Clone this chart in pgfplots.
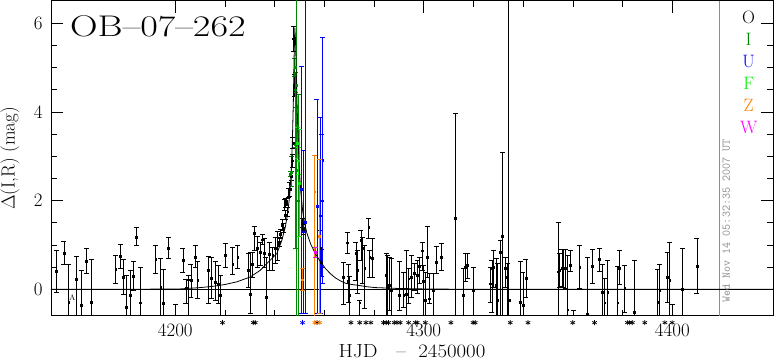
\RequirePackage{fix-cm}
\documentclass[border=0pt]{standalone}
\usepackage{fontspec}
\usepackage{pgfplots}
\usepackage{pgfplotstable}
\pgfplotsset{compat=1.18}
\definecolor{Idg}{RGB}{0,135,0}
\definecolor{Fgr}{RGB}{0,240,0}
\definecolor{Zor}{RGB}{255,127,0}
\definecolor{Wmg}{RGB}{255,0,255}
\definecolor{Ubl}{RGB}{0,0,255}
\definecolor{gr}{RGB}{140,140,140}

\pgfplotstableread{
x y ep em
4152.1 0.41 0.47 0.48
4155.2 0.82 0.27 0.26
4157.1 -0.29 0.85 0.91
4160.2 0.23 0.51 1.0
4162.3 -0.35 0.78 0.9
4164.2 0.64 0.28 0.27
4166.2 -0.29 0.96 0.96
4176.0 0.45 0.32 0.32
4178.0 0.75 0.26 0.28
4179.2 0.28 0.39 0.39
4180.2 -0.40 0.72 0.72
4182.0 -0.14 0.57 0.57
4183.2 0.29 0.34 0.31
4184.3 1.18 0.22 0.19
4186.0 -0.30 0.79 0.79
4192.1 0.68 0.31 0.32
4194.1 0.05 0.64 0.64
4195.1 -0.31 0.76 0.76
4197.1 0.93 0.24 0.24
4200.1 -0.80 0.46 0.46
4203.1 0.66 0.26 0.27
4204.3 0.02 0.20 0.33
4205.2 0.22 0.10 0.81
4206.3 0.20 0.36 0.37
4208.0 0.73 0.25 0.23
4209.0 0.20 0.44 0.41
4213.4 0.43 0.32 0.74
4214.4 0.26 0.47 0.47
4216.1 0.17 0.45 0.42
4217.2 0.11 0.43 0.43
4218.1 -0.14 0.46 0.45
4220.1 0.77 0.26 0.27
4223.1 0.57 0.37 0.23
4225.1 0.73 0.25 0.26
4229.3 0.43 0.38 0.38
4230.2 -0.10 0.93 0.45
4230.9 0.57 0.27 0.29
4231.8 1.26 0.17 0.38
4233.1 0.92 0.28 0.42
4234.2 0.83 0.24 0.29
4235.1 1.12 0.13 0.10
4235.9 0.81 0.34 0.31
4236.5 -0.17 0.89 0.42
4237.8 0.79 0.28 0.36
4239.2 0.77 0.17 0.34
4240.2 0.92 0.26 0.34
4241.2 1.00 0.30 0.34
4241.8 1.07 0.10 0.10
4242.3 1.25 0.10 0.10
4243.0 1.45 0.12 0.12
4243.6 1.38 0.10 0.10
4244.0 1.90 0.12 0.12
4244.3 1.67 0.10 0.10
4244.5 1.94 0.10 0.10
4244.8 1.98 0.08 0.08
4245.2 1.75 0.10 0.10
4245.6 2.17 0.10 0.10
4246.1 2.25 0.15 0.15
4246.6 2.55 0.10 0.10
4247.1 2.90 0.15 0.15
4247.3 3.30 0.12 0.12
4247.6 5.65 0.28 0.28
4247.9 4.60 0.25 0.25
4251.2 1.50 0.10 0.10
4251.5 1.35 0.12 0.12
4258.5 0.93 0.40 1.47
4258.8 0.60 0.30 0.30
4267.7 0.28 0.32 0.62
4269.1 1.05 0.23 0.24
4269.5 0.18 0.38 0.47
4270.0 -0.14 0.43 0.45
4272.7 0.82 0.23 0.62
4273.4 0.43 0.45 0.53
4274.2 -0.30 0.05 0.40
4274.7 1.11 0.22 0.45
4275.4 0.92 0.25 0.79
4276.2 0.47 0.53 0.91
4277.8 1.41 0.19 0.26
4278.2 0.73 0.15 0.45
4279.2 0.71 0.44 0.43
4284.9 0.32 0.49 0.91
4285.4 0.02 0.75 0.61
4286.2 0.09 0.63 0.57
4286.8 -0.02 0.71 0.57
4290.1 -0.14 0.76 0.34
4291.9 -0.14 0.53 0.26
4293.0 -0.10 0.97 0.49
4293.9 0.24 0.23 0.56
4295.0 0.28 0.49 0.45
4296.2 0.37 0.21 0.39
4297.3 0.32 0.34 0.42
4298.3 0.52 0.21 0.39
4299.3 0.87 0.20 0.44
4299.9 0.18 0.36 0.77
4300.6 -0.25 0.64 0.34
4301.3 0.73 0.68 0.45
4302.3 -0.21 0.57 0.11
4303.9 -0.02 0.39 0.57
4305.0 0.62 0.34 0.26
4307.0 0.73 0.30 0.30
4312.7 1.60 2.37 2.40
4316.0 -0.14 0.61 0.60
4316.7 0.50 0.31 0.33
4317.6 0.54 0.27 0.30
4319.8 -0.02 0.52 0.57
4326.8 0.13 0.37 0.42
4327.4 0.47 0.19 1.00
4328.1 0.50 0.38 0.45
4329.1 0.09 0.60 0.80
4329.7 -0.25 0.83 0.50
4330.8 0.84 0.27 1.50
4331.7 1.20 1.89 2.00
4332.8 0.47 0.26 0.42
4333.5 0.28 0.30 0.90
4334.2 -0.25 7.50 0.60
4338.8 -0.29 0.91 0.50
4339.9 -0.36 0.75 0.50
4341.1 0.26 0.41 0.43
4354.0 0.40 1.12 1.10
4354.6 0.43 0.38 0.38
4355.6 0.48 0.42 0.41
4356.3 0.48 0.42 0.43
4357.0 0.47 0.43 0.44
4357.9 -0.46 1.23 0.50
4359.0 0.54 0.33 0.13
4360.3 -0.90 0.42 0.40
4362.7 0.50 0.49 0.48
4365.9 -0.55 1.27 0.40
4367.9 0.53 0.37 0.40
4370.7 0.68 0.24 0.27
4371.9 -0.06 0.62 0.80
4372.8 -0.30 0.54 0.50
4374.0 -0.06 0.71 0.80
4378.0 -0.30 0.82 0.50
4378.7 0.48 0.39 0.37
4380.8 0.02 0.52 0.53
4384.8 -0.51 1.16 0.50
4394.1 -0.29 0.74 0.50
4394.9 -0.02 0.58 0.80
4397.9 0.28 0.55 0.57
4398.9 0.20 0.86 1.00
4400.1 -0.80 0.46 0.46
4403.9 0.00 0.92 1.00
4409.9 0.53 0.62 0.63
}\datO

\pgfplotstableread{
x y ep em
4248.7 4.60 3.00 6.00
4248.3 4.50 0.40 0.40
4248.5 2.68 1.75 1.76
4249.6 2.00 2.40 3.00
4246.3 2.60 0.05 0.05
4246.7 2.65 0.34 0.34
4248.3 3.26 0.05 0.05
4248.1 5.00 0.20 0.20
}\datI

\pgfplotstableread{
x y ep em
4250.6 2.25 2.78 2.79
4251.4 1.30 1.84 1.84
4252.3 1.52 6.00 2.06
4257.0 1.87 2.41 2.41
4258.3 1.66 2.21 2.21
4259.3 2.91 2.78 2.78
4259.0 2.00 1.50 1.50
}\datU

\pgfplotstableread{
x y ep em
4249.2 3.30 0.35 0.35
4249.5 2.90 0.30 0.30
4249.8 2.40 1.20 1.20
}\datF

\pgfplotstableread{
x y ep em
4256.1 2.20 0.83 3.00
4257.9 1.19 1.73 1.73
4251.0 0.22 0.25 0.25
}\datZ

\pgfplotstableread{
x y ep em
4256.3 0.83 0.11 0.11
}\datW

\begin{document}
\begin{tikzpicture}
\begin{axis}[
  name=main,
  scale only axis, width=722bp, height=315bp,
  xmin=4150, xmax=4440.5, ymin=-0.6, ymax=6.5,
  axis line style={line width=1pt},
  xtick={4200,4300,4400}, minor x tick num=4,
  ytick={0,2,4,6}, minor y tick num=3,
  major tick length=12bp, minor tick length=6bp,
  every tick/.style={black, line width=0.8pt},
  tick label style={font=\fontsize{19}{22}\selectfont},
  /pgf/number format/assume math mode=true,
  /pgf/number format/1000 sep={},
  yticklabel style={xshift=-5bp},
  xticklabel style={yshift=-4bp},
  xlabel={\scalebox{1.1}[1]{HJD\hspace{0.9em}--\hspace{0.6em}2450000}},
  ylabel={$\Delta$(I,R) (mag)},
  label style={font=\fontsize{19}{22}\selectfont},
  xlabel style={at={(axis description cs:0.5,-0.131)}, anchor=base, inner sep=0pt},
  ylabel style={at={(axis description cs:-0.057,0.5)}, anchor=center},
  error bars/error mark options={rotate=90, mark size=2.5bp, line width=0.8pt},
  error bars/error bar style={line width=0.8pt},
]
% baseline and separator
\addplot[black, line width=0.8pt] coordinates {(4150,0) (4440.5,0)};
\addplot[gr, line width=0.9pt] coordinates {(4419,-0.6) (4419,6.5)};

\addplot[black, only marks, mark=square*, mark size=0.9bp,
  error bars/.cd, y dir=both, y explicit]
  table[x=x, y=y, y error plus=ep, y error minus=em] {\datO};
\addplot[Idg, only marks, mark=square*, mark size=0.9bp,
  error bars/.cd, y dir=both, y explicit]
  table[x=x, y=y, y error plus=ep, y error minus=em] {\datI};
\addplot[Ubl, only marks, mark=square*, mark size=0.9bp,
  error bars/.cd, y dir=both, y explicit]
  table[x=x, y=y, y error plus=ep, y error minus=em] {\datU};
\addplot[Fgr, only marks, mark=square*, mark size=0.9bp,
  error bars/.cd, y dir=both, y explicit]
  table[x=x, y=y, y error plus=ep, y error minus=em] {\datF};
\addplot[Zor, only marks, mark=square*, mark size=0.9bp,
  error bars/.cd, y dir=both, y explicit]
  table[x=x, y=y, y error plus=ep, y error minus=em] {\datZ};
\addplot[Wmg, only marks, mark=square*, mark size=0.9bp,
  error bars/.cd, y dir=both, y explicit]
  table[x=x, y=y, y error plus=ep, y error minus=em] {\datW};

\addplot[black, only marks, mark=text, text mark={\fontsize{8}{8}\selectfont A}]
  coordinates {(4158.6,-0.19)};

% model curve
\addplot[black, line width=0.8pt] coordinates {
(4150,0.0) (4170,0.0) (4190,0.005) (4202,0.01) (4210,0.04) (4215.4,0.07)
(4220,0.11) (4224.8,0.17) (4230.2,0.28) (4234.2,0.43) (4237.5,0.62)
(4240.9,0.81) (4242.9,1.11) (4244.3,1.41) (4245.2,1.71) (4246.0,2.09)
(4246.6,2.6) (4247.1,3.3) (4247.5,4.2) (4247.8,5.2) (4248.1,5.9)
(4248.4,5.6) (4248.8,4.6) (4249.3,3.6) (4249.8,2.8) (4250.5,2.2)
(4251.3,1.75) (4252.2,1.45) (4253,1.26) (4254.5,1.02) (4256.3,0.81)
(4258,0.66) (4260.4,0.47) (4262.5,0.35) (4264.4,0.26) (4266.5,0.19)
(4268.4,0.14) (4271,0.11) (4273.8,0.09) (4277,0.06) (4280.5,0.04)
(4290,0.02) (4300,0.01) (4320,0.0) (4440.5,0.0)};

\node[anchor=west, inner sep=0pt, font=\fontsize{30}{34}\selectfont]
  at (rel axis cs:0.0263,0.92) {\scalebox{1.28}[1]{OB--07--262}};
\node[font=\fontsize{18}{20}\selectfont, text=black] at (rel axis cs:0.9663,0.949) {O};
\node[font=\fontsize{18}{20}\selectfont, text=Idg] at (rel axis cs:0.9663,0.878) {I};
\node[font=\fontsize{18}{20}\selectfont, text=Ubl] at (rel axis cs:0.9663,0.808) {U};
\node[font=\fontsize{18}{20}\selectfont, text=Fgr] at (rel axis cs:0.9663,0.738) {F};
\node[font=\fontsize{18}{20}\selectfont, text=Zor] at (rel axis cs:0.9663,0.668) {Z};
\node[font=\fontsize{18}{20}\selectfont, text=Wmg] at (rel axis cs:0.9663,0.598) {W};
\node[rotate=90, text=gr, font=\ttfamily\fontsize{11.8}{12}\selectfont]
  at (rel axis cs:0.9353,0.3016) {Wed Nov 14 05:32:35 2007 UT};
\end{axis}

\begin{axis}[
  at={(main.south west)}, anchor=south west,
  scale only axis, width=722bp, height=315bp,
  xmin=4150, xmax=4440.5, ymin=-0.6, ymax=6.5,
  hide axis, clip=false,
]
\addplot[black, only marks, mark=asterisk, mark size=2.6bp,
  mark options={line width=0.7pt}] coordinates {
(4219.0,-0.75) (4231.4,-0.75) (4232.2,-0.75) (4257.0,-0.75)
(4270.7,-0.75) (4274.2,-0.75) (4276.7,-0.75) (4278.7,-0.75)
(4283.8,-0.75) (4284.9,-0.75) (4285.8,-0.75) (4288.1,-0.75)
(4289.2,-0.75) (4290.5,-0.75) (4293.9,-0.75) (4296.6,-0.75)
(4297.3,-0.75) (4300.6,-0.75) (4310.9,-0.75) (4319.8,-0.75)
(4320.7,-0.75) (4334.8,-0.75) (4341.9,-0.75) (4359.9,-0.75)
(4368.7,-0.75) (4381.9,-0.75) (4382.8,-0.75) (4383.9,-0.75)
(4388.9,-0.75) (4397.0,-0.75) (4399.9,-0.75)};
\addplot[Ubl, only marks, mark=asterisk, mark size=2.6bp,
  mark options={line width=0.7pt}] coordinates {(4251.2,-0.75)};
\addplot[Zor, only marks, mark=asterisk, mark size=2.6bp,
  mark options={line width=0.7pt}] coordinates {(4256.1,-0.75) (4258.1,-0.75)};
\end{axis}
\pgfresetboundingbox
\path[use as bounding box] ([shift={(-51bp,-46bp)}]main.south west) rectangle ([shift={(2bp,1bp)}]main.north east);
\end{tikzpicture}
\end{document}
